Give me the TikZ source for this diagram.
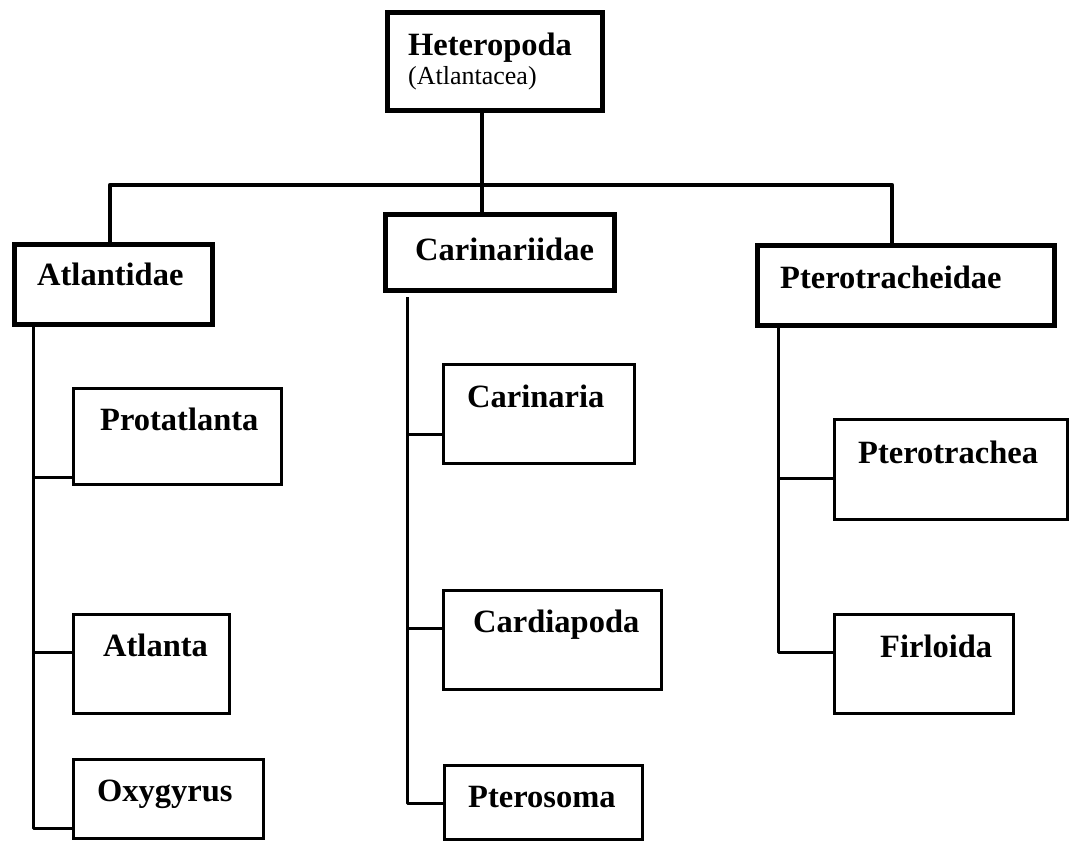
\documentclass[tikz,border=0pt]{standalone}
\usepackage{fontspec}
\setmainfont{Liberation Serif}
\begin{document}
\begin{tikzpicture}[x=1pt,y=-1pt,
  topbox/.style={draw=black, line width=5pt, anchor=north west, inner sep=0pt},
  subbox/.style={draw=black, line width=3pt, anchor=north west, inner sep=0pt},
  lbl/.style={anchor=base west, inner sep=0pt, font=\fontsize{32.5}{37}\selectfont\bfseries},
  sublbl/.style={anchor=base west, inner sep=0pt, font=\fontsize{26}{30}\selectfont},
  bus/.style={line width=4.5pt, line join=round},
  sub/.style={line width=3pt, line join=round}]
\useasboundingbox (0,0) rectangle (1069,841);
% top-level boxes
\node[topbox, minimum width=215pt, minimum height=98pt] (het) at (385,10) {};
\node[topbox, minimum width=198pt, minimum height=80pt] (atl) at (12,242) {};
\node[topbox, minimum width=229pt, minimum height=76pt] (car) at (383,212) {};
\node[topbox, minimum width=297pt, minimum height=80pt] (ptd) at (755,243) {};
% genus boxes
\node[subbox, minimum width=208pt, minimum height=96pt] (pro) at (72,387) {};
\node[subbox, minimum width=156pt, minimum height=99pt] (atla) at (72,613) {};
\node[subbox, minimum width=190pt, minimum height=79pt] (oxy) at (72,758) {};
\node[subbox, minimum width=191pt, minimum height=99pt] (cara) at (442,363) {};
\node[subbox, minimum width=218pt, minimum height=99pt] (card) at (442,589) {};
\node[subbox, minimum width=198pt, minimum height=74pt] (pso) at (443,764) {};
\node[subbox, minimum width=233pt, minimum height=100pt] (ptr) at (833,418) {};
\node[subbox, minimum width=179pt, minimum height=99pt] (fir) at (833,613) {};
% labels
\node[lbl] (t-het) at (408,55) {Heteropoda};
\node[sublbl] (t-atc) at (408,84) {(Atlantacea)};
\node[lbl] (t-atl) at (37,285) {Atlantidae};
\node[lbl] (t-car) at (415,260) {Carinariidae};
\node[lbl] (t-ptd) at (780,288) {Pterotracheidae};
\node[lbl] (t-pro) at (100,430) {Protatlanta};
\node[lbl] (t-atla) at (103,656) {Atlanta};
\node[lbl] (t-oxy) at (97,801) {Oxygyrus};
\node[lbl] (t-cara) at (467,407) {Carinaria};
\node[lbl] (t-card) at (473,632) {Cardiapoda};
\node[lbl] (t-pso) at (468,807) {Pterosoma};
\node[lbl] (t-ptr) at (858,463) {Pterotrachea};
\node[lbl] (t-fir) at (880,657) {Firloida};
% bus coordinates
\coordinate (busL) at (110,185);
\coordinate (busC) at (482,185);
\coordinate (busR) at (892,185);
\draw[bus] (busL |- atl.north) -- (busL) -- (busR) -- (busR |- ptd.north);
\draw[bus] (busC |- het.south) -- (busC |- car.north);
% Atlantidae subtree
\coordinate (a1) at (33,477);
\coordinate (a2) at (33,652);
\coordinate (a3) at (33,828);
\draw[sub] (a1 |- atl.south) -- (a3) -- (a3 -| oxy.west);
\draw[sub] (a1) -- (a1 -| pro.west);
\draw[sub] (a2) -- (a2 -| atla.west);
% Carinariidae subtree
\coordinate (cTop) at (407,297);
\coordinate (c1) at (407,434);
\coordinate (c2) at (407,628);
\coordinate (c3) at (407,803);
\draw[sub] (cTop) -- (c3) -- (c3 -| pso.west);
\draw[sub] (c1) -- (c1 -| cara.west);
\draw[sub] (c2) -- (c2 -| card.west);
% Pterotracheidae subtree
\coordinate (p1) at (778,478);
\coordinate (p2) at (778,652);
\draw[sub] (p1 |- ptd.south) -- (p2) -- (p2 -| fir.west);
\draw[sub] (p1) -- (p1 -| ptr.west);
\end{tikzpicture}
\end{document}
